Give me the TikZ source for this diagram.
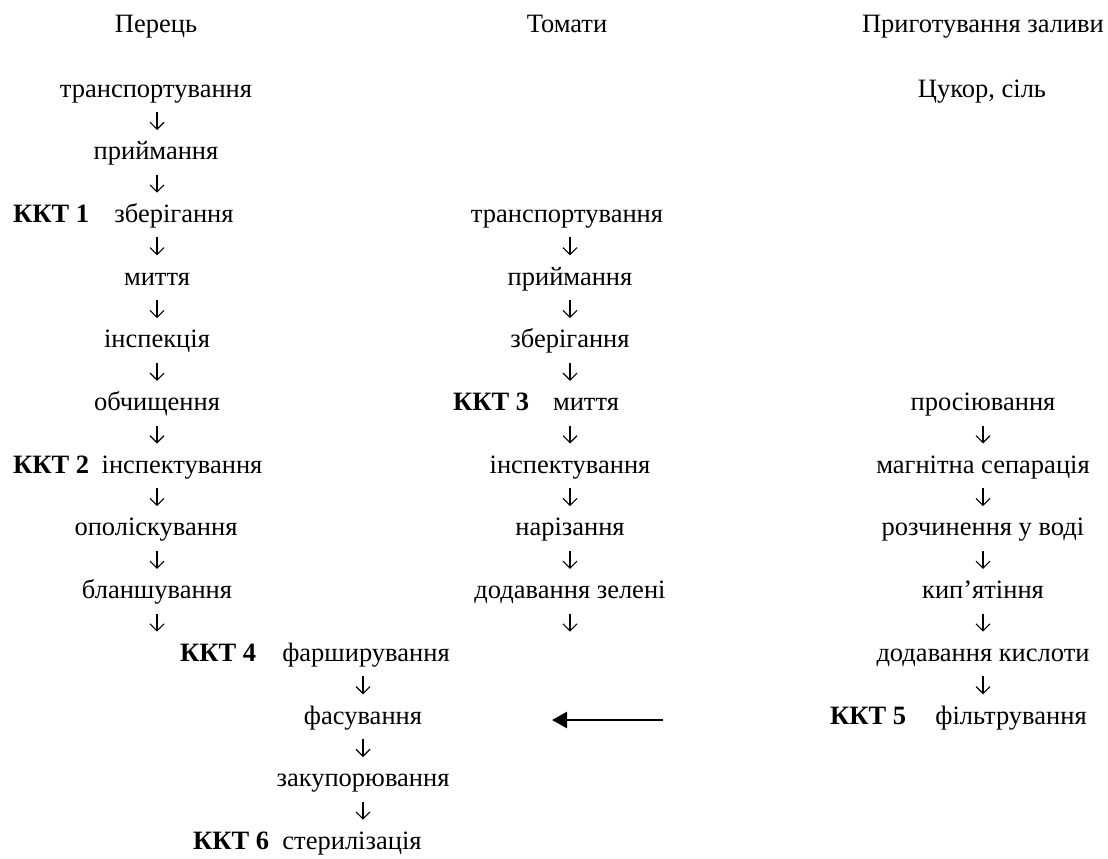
\documentclass[tikz,border=0pt]{standalone}
\usepackage{fontspec}
\setmainfont{Liberation Serif}
\usetikzlibrary{arrows.meta,calc}
\begin{document}
\begin{tikzpicture}[x=1pt,y=-1pt,
  lbl/.style={font=\fontsize{26.5}{30}\selectfont, inner sep=0pt, anchor=base},
  kkt/.style={font=\fontsize{26.5}{30}\selectfont\bfseries, inner sep=0pt, anchor=base west},
  dn/.style={line width=1.1pt, -{Straight Barb[length=7pt,width=14pt]}},
  big/.style={line width=2.6pt, -{Triangle[length=15pt,width=16pt]}}
]
\useasboundingbox (0,0) rectangle (1108,859);
\def\rA{97}\def\rB{159.7}\def\rC{222.4}\def\rD{285.1}\def\rE{347.8}\def\rF{410.5}
\def\rG{473.2}\def\rH{535.9}\def\rI{598.6}\def\rJ{661.3}\def\rK{724}\def\rL{786.7}\def\rM{849.4}
% column x positions of the arrows
\coordinate (c1) at (157,0);
\coordinate (c4) at (363,0);
\coordinate (c2) at (570,0);
\coordinate (c3) at (983,0);
% titles
\node[lbl] (h1) at (156,33) {Перець};
\node[lbl] (h2) at (567,33) {Томати};
\node[lbl] (h3) at (983,33) {Приготування заливи};
% pepper column
\node[lbl] (p0) at (156,\rA) {транспортування};
\node[lbl] (p1) at (156,\rB) {приймання};
\node[kkt] (k1) at (13,\rC) {ККТ 1};
\node[lbl] (p2) at (174,\rC) {зберігання};
\node[lbl] (p3) at (157,\rD) {миття};
\node[lbl] (p4) at (157,\rE) {інспекція};
\node[lbl] (p5) at (157,\rF) {обчищення};
\node[kkt] (k2) at (13,\rG) {ККТ 2};
\node[lbl] (p6) at (182,\rG) {інспектування};
\node[lbl] (p7) at (156,\rH) {ополіскування};
\node[lbl] (p8) at (157,\rI) {бланшування};
\node[kkt] (k4) at (180,\rJ) {ККТ 4};
\node[lbl] (p9) at (366,\rJ) {фарширування};
\node[lbl] (p10) at (363,\rK) {фасування};
\node[lbl] (p11) at (363,\rL) {закупорювання};
\node[kkt] (k6) at (193,\rM) {ККТ 6};
\node[lbl] (p12) at (352,\rM) {стерилізація};
% tomato column
\node[lbl] (t2) at (567,\rC) {транспортування};
\node[lbl] (t3) at (570,\rD) {приймання};
\node[lbl] (t4) at (570,\rE) {зберігання};
\node[kkt] (k3) at (453,\rF) {ККТ 3};
\node[lbl] (t5) at (586,\rF) {миття};
\node[lbl] (t6) at (570,\rG) {інспектування};
\node[lbl] (t7) at (570,\rH) {нарізання};
\node[lbl] (t8) at (570,\rI) {додавання зелені};
\coordinate (tend) at (570,\rJ);
% syrup column
\node[lbl] (s0) at (982,\rA) {Цукор, сіль};
\node[lbl] (s5) at (983,\rF) {просіювання};
\node[lbl] (s6) at (983,\rG) {магнітна сепарація};
\node[lbl] (s7) at (983,\rH) {розчинення у воді};
\node[lbl] (s8) at (983,\rI) {кип’ятіння};
\node[lbl] (s9) at (983,\rJ) {додавання кислоти};
\node[kkt] (k5) at (830,\rK) {ККТ 5};
\node[lbl] (s10) at (1011,\rK) {фільтрування};
% down arrows
\foreach \a/\b/\c in {p0/p1/c1,p1/p2/c1,p2/p3/c1,p3/p4/c1,p4/p5/c1,p5/p6/c1,p6/p7/c1,p7/p8/c1,p8/p9/c1,
  p9/p10/c4,p10/p11/c4,p11/p12/c4,
  t2/t3/c2,t3/t4/c2,t4/t5/c2,t5/t6/c2,t6/t7/c2,t7/t8/c2,t8/tend/c2,
  s5/s6/c3,s6/s7/c3,s7/s8/c3,s8/s9/c3,s9/s10/c3}
  \draw[dn] ($(\a.base -| \c)+(0,15)$) -- ($(\b.base -| \c)+(0,-29.7)$);
% horizontal arrow
\coordinate (ha) at (663,720);
\coordinate (hb) at (552,720);
\draw[big] (ha) -- (hb);
\end{tikzpicture}
\end{document}
